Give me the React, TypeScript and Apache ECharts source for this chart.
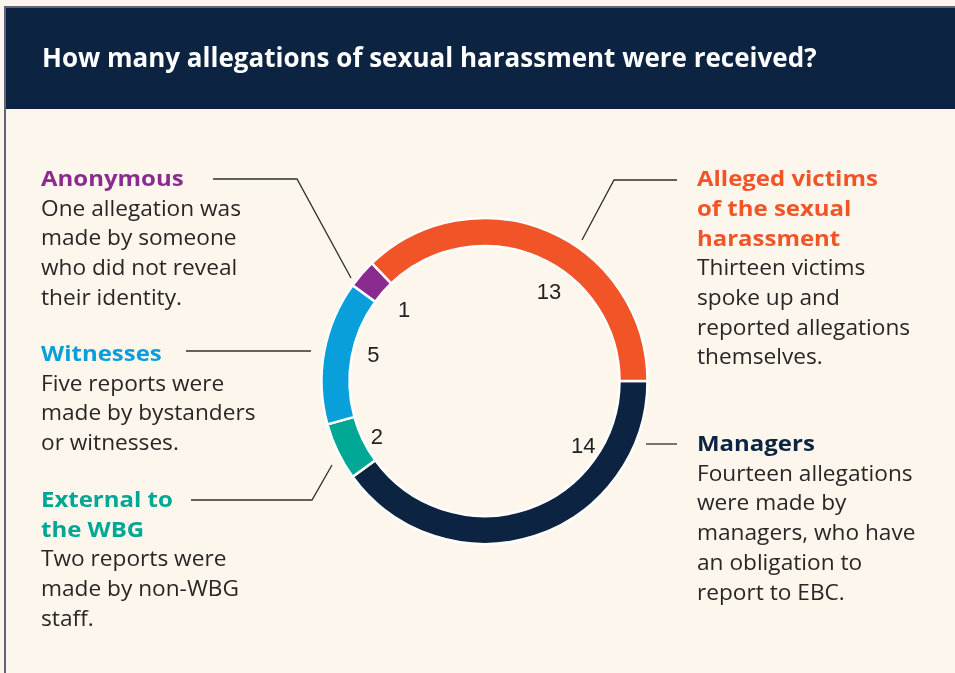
import React, { useEffect, useRef } from "react";
import * as echarts from "echarts";

const title = "How many allegations of sexual harassment were received?";
const categories = ["Managers", "External to the WBG", "Witnesses", "Anonymous", "Alleged victims of the sexual harassment"];
const values = [14, 2, 5, 1, 13];
const colors = ["#0c2342", "#00a795", "#089fda", "#8a2b8f", "#f15427"];
const headingLines = [
  ["Managers"],
  ["External to", "the WBG"],
  ["Witnesses"],
  ["Anonymous"],
  ["Alleged victims", "of the sexual", "harassment"],
];
const bodyLines = [
  ["Fourteen allegations", "were made by", "managers, who have", "an obligation to", "report to EBC."],
  ["Two reports were", "made by non-WBG", "staff."],
  ["Five reports were", "made by bystanders", "or witnesses."],
  ["One allegation was", "made by someone", "who did not reveal", "their identity."],
  ["Thirteen victims", "spoke up and", "reported allegations", "themselves."],
];

// annotation layout (positions only)
const blockPos = [
  { x: 697, y: 428 },
  { x: 41, y: 484 },
  { x: 41, y: 338 },
  { x: 41, y: 163 },
  { x: 697, y: 163 },
];
const leaderLines = [
  [[646, 444], [677, 444]],
  [[191, 500], [312, 500], [332, 465]],
  [[186, 351], [311, 351]],
  [[213, 179], [297, 179], [351, 278]],
  [[582, 240], [614, 180], [677, 180]],
];
const labelShift = [
  [63, -46],
  [-3, 5],
  [3, -6],
  [7, 5],
  [19, 17],
];

const LH = 29.7;
const FONT = "'Open Sans', Lato, sans-serif";

export default function App() {
  const ref = useRef<HTMLDivElement>(null);
  useEffect(() => {
    if (!ref.current) return;
    const chart = echarts.init(ref.current, null, { renderer: "svg" });
    const data = categories.map((name, i) => ({ name, value: values[i], itemStyle: { color: colors[i] } }));
    const graphic: any[] = [
      { type: "rect", shape: { x: 0, y: 0, width: 955, height: 673 }, style: { fill: "#fdf6ec" }, z: -10 },
      { type: "rect", shape: { x: 6, y: 8, width: 949, height: 101 }, style: { fill: "#0c2342" } },
      { type: "line", shape: { x1: 4, y1: 7, x2: 955, y2: 7 }, style: { stroke: "#5f6676", lineWidth: 2 } },
      { type: "line", shape: { x1: 5, y1: 7, x2: 5, y2: 673 }, style: { stroke: "#5f6676", lineWidth: 2 } },
      {
        type: "text",
        x: 42,
        y: 57,
        style: { text: title, fill: "#ffffff", font: `bold 26px ${FONT}`, verticalAlign: "middle" },
      },
    ];
    categories.forEach((_, i) => {
      const p = blockPos[i];
      const hl = headingLines[i];
      graphic.push({
        type: "text",
        x: p.x,
        y: p.y,
        scaleX: 1.09,
        style: {
          text: hl.join("\n"),
          fill: colors[i],
          font: `bold 22px ${FONT}`,
          lineHeight: LH,
          verticalAlign: "top",
        },
      });
      graphic.push({
        type: "text",
        x: p.x,
        y: p.y + hl.length * LH,
        scaleX: 1.08,
        style: {
          text: bodyLines[i].join("\n"),
          fill: "#2a2626",
          font: `21px ${FONT}`,
          lineHeight: LH,
          verticalAlign: "top",
        },
      });
      graphic.push({
        type: "polyline",
        shape: { points: leaderLines[i] },
        style: { stroke: "#2f2f2f", lineWidth: 1.3, fill: null },
      });
    });

    chart.setOption({
      animation: false,
      graphic,
      series: [
        {
          type: "pie",
          center: [484.5, 381],
          radius: [135, 163],
          startAngle: 0,
          clockwise: true,
          silent: true,
          label: { show: false },
          labelLine: { show: false },
          itemStyle: { borderColor: "#ffffff", borderWidth: 2.5 },
          data,
        },
        {
          type: "pie",
          center: [484.5, 381],
          radius: [100, 126],
          startAngle: 0,
          clockwise: true,
          silent: true,
          avoidLabelOverlap: false,
          itemStyle: { color: "rgba(0,0,0,0)" },
          label: {
            show: true,
            position: "inside",
            formatter: "{c}",
            color: "#222222",
            fontSize: 22,
            fontFamily: "'Liberation Sans', Arial, sans-serif",
          },
          labelLine: { show: false },
          labelLayout: (params: any) => ({ dx: labelShift[params.dataIndex][0], dy: labelShift[params.dataIndex][1] }),
          data: categories.map((name, i) => ({ name, value: values[i] })),
        },
      ],
    });
    return () => chart.dispose();
  }, []);
  return <div ref={ref} style={{ position: "fixed", left: 0, top: 0, width: 955, height: 673 }} />;
}
